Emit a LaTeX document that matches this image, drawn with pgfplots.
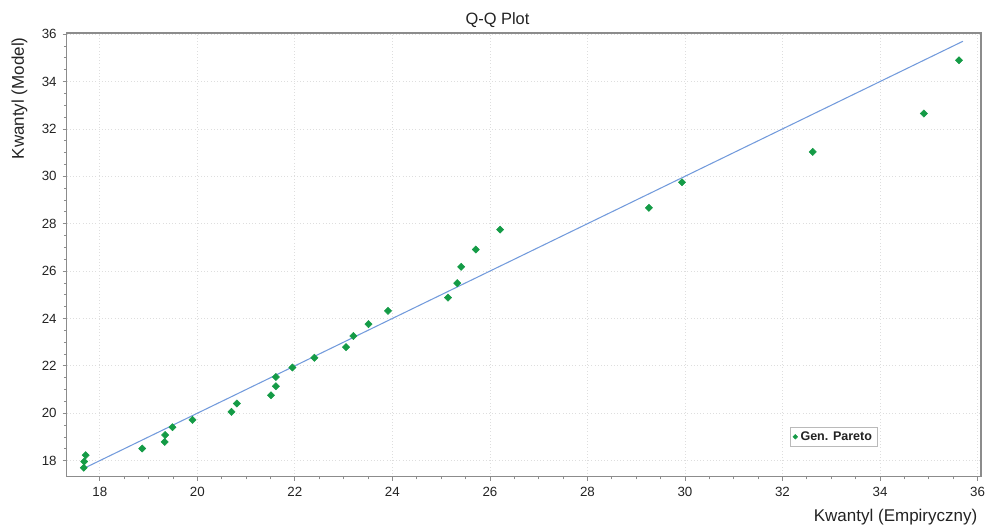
\documentclass[border=0pt]{standalone}
\usepackage{pgfplots}
\pgfplotsset{compat=1.18}
\usepackage{fontspec}
\setmainfont{Liberation Sans}

\definecolor{ptgreen}{RGB}{20,155,70}
\definecolor{refblue}{RGB}{115,155,220}
\definecolor{axgray}{RGB}{140,140,140}
\definecolor{gridgray}{RGB}{222,222,222}
\definecolor{txt}{RGB}{35,35,35}

\pgfplotstableread{
x y
17.67 17.70
17.68 17.96
17.71 18.23
18.87 18.51
19.33 18.79
19.34 19.08
19.49 19.41
19.90 19.72
20.70 20.06
20.81 20.41
21.51 20.76
21.61 21.14
21.61 21.53
21.95 21.93
22.40 22.34
23.05 22.79
23.20 23.26
23.51 23.76
23.91 24.32
25.14 24.88
25.33 25.49
25.41 26.18
25.71 26.91
26.21 27.75
29.26 28.67
29.94 29.75
32.62 31.03
34.90 32.65
35.62 34.90
}\qqdata

\begin{document}
\begin{tikzpicture}
\begin{axis}[
  scale only axis,
  width=685.7pt, height=332.8pt,
  xmin=17.32, xmax=36.07,
  ymin=17.32, ymax=36.05,
  xtick={18,20,...,36}, ytick={18,20,...,36},
  minor tick num=3,
  tick align=outside,
  major tick length=3pt, minor tick length=2pt,
  tick style={axgray, line width=0.6pt},
  axis line style={axgray, line width=1pt},
  xtick pos=bottom, ytick pos=left,
  grid=major,
  major grid style={gridgray, dotted, line width=0.6pt},
  ticklabel style={font=\fontsize{10}{12}\selectfont, text=txt},
  /pgf/number format/assume math mode=true,
  xticklabel style={yshift=-1pt},
  yticklabel style={xshift=-1pt},
  legend style={at={(0.839,0.090)}, anchor=center, draw=axgray!60,
    font=\fontsize{9.4}{11}\selectfont\bfseries, text=txt,
    inner xsep=2pt, inner ysep=1pt},
  legend cell align=left,
  clip=false,
]
\addplot[refblue, line width=0.8pt, forget plot] coordinates {(17.68,17.68) (35.70,35.70)};
\addplot[only marks, mark=square*, mark size=1.9pt, color=ptgreen,
  mark options={rotate=45},
  legend image code/.code={\draw[ptgreen, fill=ptgreen] (0.12cm,0) +(0,1.7pt) -- +(1.7pt,0) -- +(0,-1.7pt) -- +(-1.7pt,0) -- cycle;}]
  table[x=x, y=y] {\qqdata};
\addlegendentry{Gen. Pareto}
\end{axis}
% title and axis labels
\node[font=\fontsize{12.3}{14}\selectfont, text=txt] at (323.1pt,342.5pt) {Q-Q Plot};
\node[rotate=90, anchor=east, font=\fontsize{12.75}{15}\selectfont, text=txt] at (-35.4pt,333pt) {Kwantyl (Model)};
\node[anchor=east, font=\fontsize{12.75}{15}\selectfont, text=txt] at (686.5pt,-30.2pt) {Kwantyl (Empiryczny)};
\pgfresetboundingbox
\path[use as bounding box] (-50pt,-37.7pt) rectangle (691pt,357.55pt);
\end{tikzpicture}
\end{document}
